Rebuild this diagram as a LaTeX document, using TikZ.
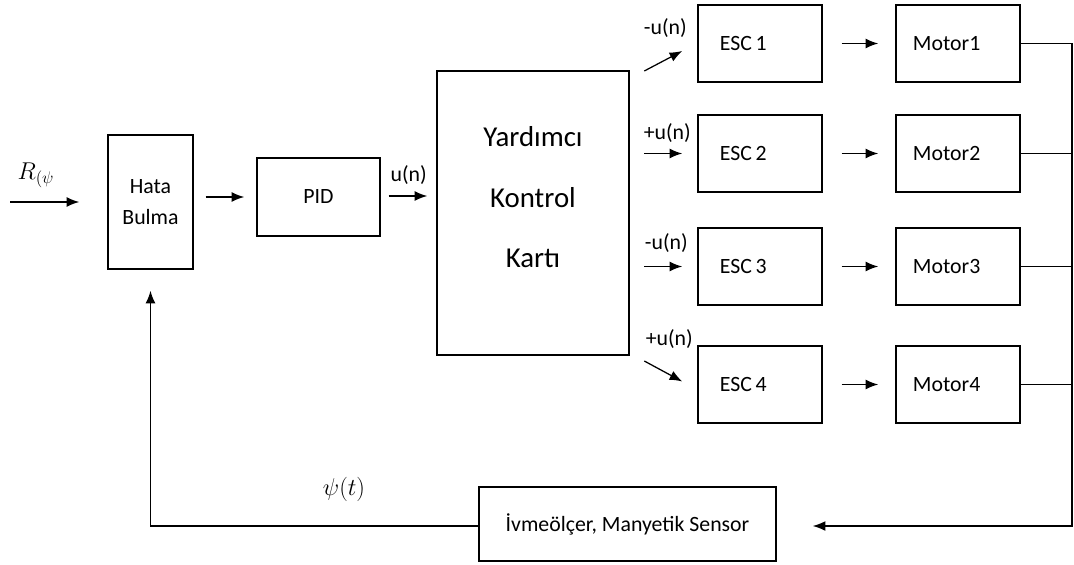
\documentclass[tikz,border=0pt]{standalone}
\usepackage{fontspec}
\setmainfont{Carlito}
\usetikzlibrary{arrows.meta,positioning,calc}

\begin{document}
\begin{tikzpicture}[x=0.025cm, y=-0.025cm, >={Latex[length=9pt,width=7pt]},
        blok/.style={draw, line width=1pt, align=center, font=\fontsize{15.5}{22}\selectfont},
        escblok/.style={blok, minimum width=3.1cm, minimum height=1.925cm, text width=2.0cm, inner xsep=0.55cm, align=left},
        motorblok/.style={blok, minimum width=3.1cm, minimum height=1.925cm, text width=2.25cm, inner xsep=0.425cm, align=left},
        sinyal/.style={font=\fontsize{15.5}{18}\selectfont, inner sep=1pt},
        hat/.style={line width=0.9pt}]
    \useasboundingbox (0,0) rectangle (1074,565);

    % bloklar
    \node[blok, minimum width=2.125cm, minimum height=3.35cm] (hata) at (150.5,202) {Hata\\Bulma};
    \node[blok, minimum width=3.075cm, minimum height=1.95cm] (pid) at (318.5,197) {PID};
    \node[blok, minimum width=4.8cm, minimum height=7.1cm, text depth=0.8cm,
          font=\fontsize{20.5}{43}\selectfont] (kart) at (533,213) {Yardımcı\\Kontrol\\Kartı};
    \node[blok, minimum width=7.425cm, minimum height=1.85cm] (sensor) at (627.5,524) {İvmeölçer, Manyetik Sensor};
    \foreach \i/\y in {1/43.5, 2/153.5, 3/266.5, 4/384.5} {
        \node[escblok] (esc\i) at (760,\y) {ESC\,\i};
        \node[motorblok] (m\i) at (958,\y) {Motor\i};
        \draw[hat,->] ($(esc\i.east)+(19,0)$) -- ($(m\i.west)+(-17,0)$);
    }

    % giris ve kontrol yolu
    \coordinate (giris) at (10,202);
    \draw[hat,->] (giris) -- ($(hata.west)+(-28,0)$);
    \node[sinyal, font=\fontsize{18}{20}\selectfont] (ref) at (36,175) {$R_{(\psi}$};
    \draw[hat,->] ($(hata.east |- pid.west)+(12,0)$) -- ($(pid.west)+(-12,0)$);
    \draw[hat,->] ($(pid.east)+(8,-1)$) -- ($(pid.east -| kart.west)+(-9,-1)$);
    \node[sinyal] (un) at ($(pid.east)+(28,-22)$) {u(n)};

    % ESC girisleri
    \draw[hat,->] ($(esc1.west)+(-53,27.5)$) -- ($(esc1.west)+(-15,7.5)$);
    \node[sinyal] (u1) at ($(esc1.west)+(-32,-15.5)$) {-u(n)};
    \draw[hat,->] ($(esc2.west)+(-53,0)$) -- ($(esc2.west)+(-15,0)$);
    \node[sinyal] (u2) at ($(esc2.west)+(-30,-20)$) {+u(n)};
    \draw[hat,->] ($(esc3.west)+(-53,0)$) -- ($(esc3.west)+(-15,0)$);
    \node[sinyal] (u3) at ($(esc3.west)+(-31,-23)$) {-u(n)};
    \draw[hat,->] ($(esc4.west)+(-53,-23.5)$) -- ($(esc4.west)+(-15,-3)$);
    \node[sinyal] (u4) at ($(esc4.west)+(-28,-45.5)$) {+u(n)};

    % geri besleme
    \coordinate (bus) at (1072,526);
    \foreach \i in {1,...,4}
        \draw[hat] (m\i.east) -- (m\i.east -| bus);
    \draw[hat,->] (m1.east -| bus) -- (bus) -- ($(sensor.east |- bus)+(36,0)$);
    \draw[hat,->] (sensor.west |- bus) -| ($(hata.south)+(0,21)$);
    \node[sinyal, font=\fontsize{18}{20}\selectfont] (psi) at (344,489) {$\psi(t)$};
\end{tikzpicture}
\end{document}
